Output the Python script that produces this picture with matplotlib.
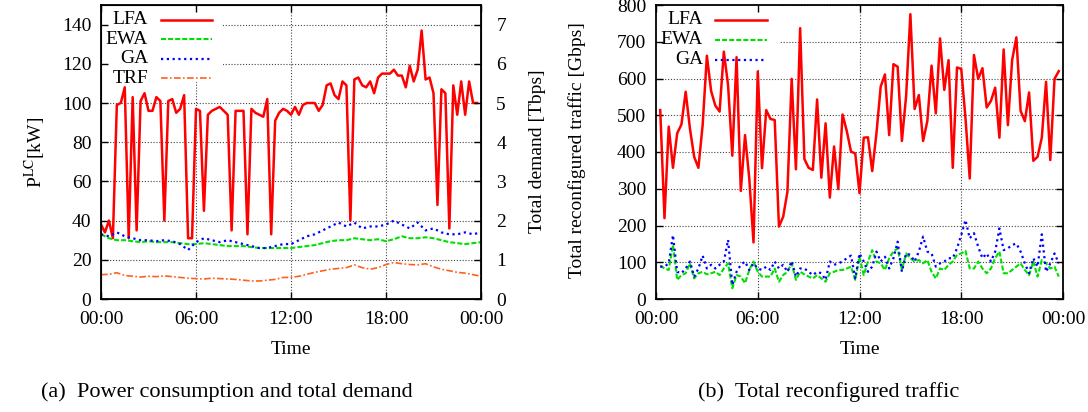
import numpy as np
import matplotlib.pyplot as plt
from matplotlib.patches import Rectangle

plt.rcParams['font.family'] = ['Liberation Serif', 'DejaVu Serif']
plt.rcParams['mathtext.fontset'] = 'stix'

# (a) power consumption, 15 min samples [kW]
lfa_kw = [38, 34, 40, 31, 99, 100, 108, 31, 103, 35, 101, 105, 96, 96, 103, 101,
          40, 101, 102, 95, 97, 104, 31, 31, 97, 96, 45, 94, 96, 97, 98, 96,
          94, 35, 96, 96, 96, 33, 97, 95, 94, 93, 102, 33, 91, 95, 97, 96,
          94, 98, 94, 99, 100, 100, 100, 96, 99, 109, 110, 104, 102, 111, 109, 40,
          112, 113, 109, 108, 111, 105, 113, 115, 115, 115, 117, 114, 114, 108, 119, 111,
          117, 137, 112, 113, 105, 48, 107, 105, 36, 109, 94, 111, 94, 111, 100, 100]

# 30 min samples
ewa_kw = [33, 31, 30, 30, 29.5, 29, 29.5, 29, 29, 29,
          28.5, 28, 28, 28.5, 28, 27.5, 27, 27, 27, 26.5,
          26, 26, 26, 26, 26, 26.5, 27, 27.5, 28.5, 29.5,
          30, 30, 31, 30.5, 30, 30.5, 29.5, 30.5, 32, 31,
          31, 31.5, 31, 30, 29, 28.5, 28, 28.5, 29]
ga_kw = [33, 32, 34, 32, 31, 30, 30, 29.5, 30, 29.5,
         28, 25, 29, 31, 30, 29, 30, 29, 28, 27,
         26, 26, 27, 28, 28, 30, 32, 33, 35, 37,
         39, 37, 39, 36, 37, 37, 38, 40, 38, 36,
         39, 35, 36, 34, 33, 33, 34, 33, 34]
trf_tbps = [0.62, 0.63, 0.67, 0.60, 0.58, 0.56, 0.58, 0.57, 0.59, 0.57,
            0.55, 0.53, 0.52, 0.51, 0.53, 0.52, 0.51, 0.50, 0.48, 0.46,
            0.46, 0.48, 0.50, 0.55, 0.55, 0.58, 0.63, 0.68, 0.72, 0.76,
            0.78, 0.80, 0.87, 0.80, 0.76, 0.80, 0.88, 0.93, 0.90, 0.88,
            0.87, 0.90, 0.82, 0.76, 0.72, 0.68, 0.66, 0.62, 0.58]

# (b) reconfigured traffic [Gbps], 15 min samples from 00:15
lfa_gbps = [514, 220, 469, 357, 451, 475, 564, 464, 387, 357,
            473, 662, 566, 526, 510, 673, 582, 390, 658, 294,
            446, 328, 154, 619, 356, 514, 490, 487, 197, 224,
            292, 599, 353, 737, 381, 357, 351, 543, 330, 478,
            276, 415, 299, 502, 457, 401, 396, 288,
            439, 440, 348, 451, 578, 611, 446, 639, 632, 430,
            553, 775, 517, 555, 430, 484, 635, 505, 709, 569,
            650, 357, 630, 626, 492, 328, 664, 599, 628, 521,
            539, 575, 439, 679, 473, 650, 712, 512, 484, 562,
            376, 387, 439, 591, 378, 599, 620]
ewa_gbps = [91, 83, 79, 147, 52, 65, 70, 97, 56, 70,
            74, 67, 70, 74, 65, 83, 97, 29, 65, 61,
            43, 79, 102, 74, 61, 61, 61, 83, 47, 65,
            74, 97, 52, 74, 67, 61, 56, 65, 56, 47,
            70, 74, 79, 79, 83, 88, 52, 115,
            65, 102, 133, 102, 97, 79, 111, 129, 138, 79,
            124, 111, 102, 106, 97, 106, 74, 56, 83, 79,
            93, 102, 120, 124, 131, 83, 83, 102, 83, 70,
            83, 111, 129, 70, 70, 79, 88, 97, 79, 65,
            102, 61, 106, 97, 83, 88, 61]
ga_gbps = [88, 88, 97, 174, 74, 70, 83, 102, 61, 83,
           118, 83, 93, 83, 93, 102, 161, 38, 74, 93,
           102, 79, 97, 83, 79, 88, 79, 102, 83, 93,
           74, 103, 61, 83, 83, 74, 65, 74, 70, 52,
           102, 93, 97, 102, 111, 118, 56, 124,
           102, 74, 88, 129, 102, 115, 83, 111, 156, 74,
           124, 120, 102, 129, 170, 129, 124, 88, 97, 102,
           111, 111, 138, 174, 215, 165, 179, 142, 111, 124,
           102, 129, 192, 133, 138, 147, 151, 129, 97, 70,
           111, 88, 176, 74, 97, 124, 97]

time_ticks = [0, 6, 12, 18, 24]
time_labels = ['00:00', '06:00', '12:00', '18:00', '00:00']

t_q = np.arange(len(lfa_kw)) * 0.25
t_h = np.arange(len(ewa_kw)) * 0.5
t_r = (np.arange(len(lfa_gbps)) + 1) * 0.25

styles = {
    'LFA': dict(color='#ff0000', lw=1.8, ls='-'),
    'EWA': dict(color='#00e000', lw=1.5, ls=(0, (2.4, 1.0))),
    'GA': dict(color='#0000ff', lw=1.6, ls=(0, (1.0, 1.6))),
    'TRF': dict(color='#ff6020', lw=1.2, ls=(0, (4, 1.4, 1, 1.4))),
}

FS = 14
W, H = 1088, 412


def style_axis(ax, ymax, ystep):
    ax.set_xlim(0, 24)
    ax.set_ylim(0, ymax)
    ax.set_xticks(time_ticks)
    ax.set_xticklabels(time_labels)
    ax.set_yticks(np.arange(0, ymax + 1e-9, ystep))
    ax.tick_params(direction='in', length=5, width=1, labelsize=FS, top=True)
    ax.tick_params(axis='x', pad=9)
    ax.tick_params(axis='y', pad=7)
    for s in ax.spines.values():
        s.set_linewidth(1.3)
    for x in time_ticks[1:-1]:
        ax.axvline(x, color='#444444', lw=0.8, ls=(0, (1, 1.6)), zorder=1)
    for y in ax.get_yticks()[1:]:
        ax.axhline(y, color='#444444', lw=0.8, ls=(0, (1, 1.6)), zorder=1)


def draw_key(ax, names, x_text, x0, x1, y_top, dy, box_w, box_h):
    ax.add_patch(Rectangle((0, 1 - box_h), box_w, box_h, transform=ax.transAxes,
                           facecolor='white', edgecolor='none', zorder=1.5))
    for k, name in enumerate(names):
        y = y_top - k * dy
        ax.text(x_text, y, name, transform=ax.transAxes, ha='right', va='center',
                fontsize=FS, zorder=5)
        ax.plot([x0, x1], [y, y], transform=ax.transAxes, zorder=5, **styles[name])


fig = plt.figure(figsize=(W / 100, H / 100), dpi=100)

# ---- (a) ----
ax1 = fig.add_axes([101 / W, 1 - 299 / H, 380 / W, 294 / H])
style_axis(ax1, 150, 20)
ax1.tick_params(right=False)
ax1.plot(t_q, lfa_kw, zorder=2, **styles['LFA'])
ax1.plot(t_h, ewa_kw, zorder=2, **styles['EWA'])
ax1.plot(t_h, ga_kw, zorder=2, **styles['GA'])
draw_key(ax1, ['LFA', 'EWA', 'GA', 'TRF'], 0.124, 0.158, 0.292, 0.949, 0.066, 0.32, 0.262)

ax1b = ax1.twinx()
ax1b.set_ylim(0, 7.5)
ax1b.set_yticks(range(0, 8))
ax1b.tick_params(direction='in', length=5, width=1, labelsize=FS, pad=11)
ax1b.plot(t_h, trf_tbps, zorder=2, **styles['TRF'])

fig.text(35 / W, 1 - 152 / H, r'P$^{\mathrm{LC}}$[kW]', rotation=90,
         ha='center', va='center', fontsize=FS)
fig.text(538 / W, 1 - 151 / H, 'Total demand [Tbps]', rotation=90,
         ha='center', va='center', fontsize=FS)
fig.text(291 / W, 1 - 350 / H, 'Time', ha='center', va='center', fontsize=FS)
fig.text(227 / W, 1 - 392 / H, '(a)  Power consumption and total demand',
         ha='center', va='center', fontsize=16)

# ---- (b) ----
ax2 = fig.add_axes([656 / W, 1 - 299 / H, 407 / W, 294 / H])
style_axis(ax2, 800, 100)
ax2.tick_params(right=True)
ax2.plot(t_r, lfa_gbps, zorder=2, **styles['LFA'])
ax2.plot(t_r, ewa_gbps, zorder=2, **styles['EWA'])
ax2.plot(t_r, ga_gbps, zorder=2, **styles['GA'])
draw_key(ax2, ['LFA', 'EWA', 'GA'], 0.1155, 0.145, 0.273, 0.949, 0.068, 0.302, 0.221)

fig.text(577 / W, 1 - 150 / H, 'Total reconfigured traffic [Gbps]', rotation=90,
         ha='center', va='center', fontsize=FS)
fig.text(860 / W, 1 - 350 / H, 'Time', ha='center', va='center', fontsize=FS)
fig.text(829 / W, 1 - 392 / H, '(b)  Total reconfigured traffic',
         ha='center', va='center', fontsize=16)

fig.savefig('out.png', dpi=100)
